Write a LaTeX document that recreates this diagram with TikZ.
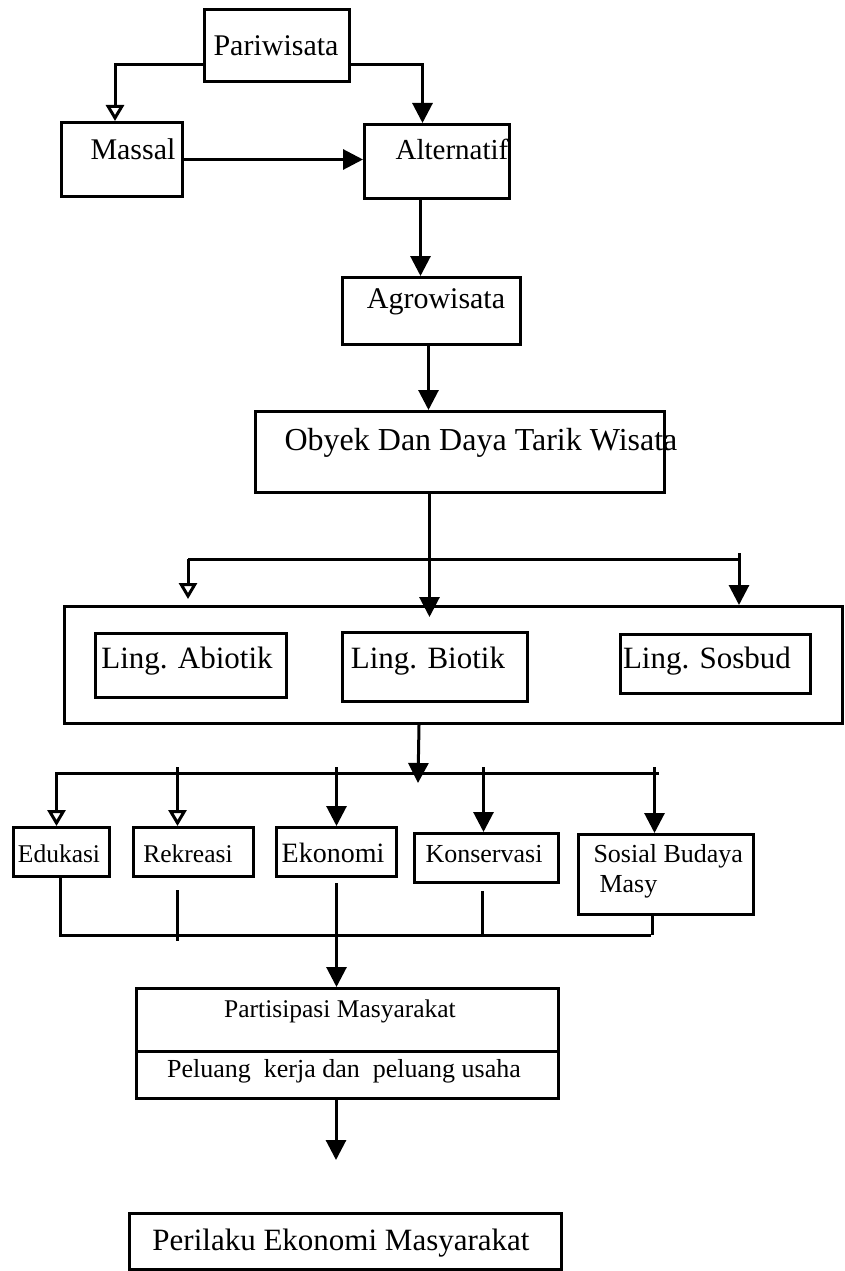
\documentclass[tikz,border=0pt]{standalone}
\usepackage{fontspec}
\newfontfamily\tnr{Liberation Serif}
\usetikzlibrary{arrows.meta,calc}
\newcommand{\fsz}[1]{\fontsize{#1}{#1}\selectfont}
\begin{document}
\begin{tikzpicture}[x=1pt,y=-1pt,line width=3pt,
  box/.style={draw,rectangle,inner sep=0pt,anchor=north west},
  txt/.style={inner sep=0pt,anchor=base},
  arr/.style={-{Triangle[length=20pt,width=20pt]}},
  oarr/.style={-{Triangle[open,fill=white,length=16pt,width=18pt]}}]
\useasboundingbox (0,0) rectangle (844,1271);
% boxes
\node[box,minimum width=145,minimum height=72] (pari) at (203,8) {};
\node[box,minimum width=121,minimum height=74] (mas) at (60,121) {};
\node[box,minimum width=145,minimum height=74] (alt) at (363,123) {};
\node[box,minimum width=178,minimum height=67] (agro) at (341,276) {};
\node[box,minimum width=409,minimum height=81] (oby) at (254,410) {};
\node[box,minimum width=778,minimum height=117] (ctr) at (63,605) {};
\node[box,minimum width=191,minimum height=64] (abio) at (94,632) {};
\node[box,minimum width=185,minimum height=69] (bio) at (341,631) {};
\node[box,minimum width=190,minimum height=59] (sos) at (619,633) {};
\node[box,minimum width=96,minimum height=49] (edu) at (12,826) {};
\node[box,minimum width=120,minimum height=49] (rek) at (132,826) {};
\node[box,minimum width=120,minimum height=49] (eko) at (275,826) {};
\node[box,minimum width=144,minimum height=49] (kon) at (413,832) {};
\node[box,minimum width=175,minimum height=80] (sbm) at (577,833) {};
\node[box,minimum width=422,minimum height=63] (part) at (135,987) {};
\node[box,minimum width=422,minimum height=47] (pel) at (135,1050) {};
\node[box,minimum width=432,minimum height=56] (per) at (128,1212) {};
% texts
\node[txt,font=\tnr\fsz{30}] (tpari) at (276,56) {Pariwisata};
\node[txt,font=\tnr\fsz{30}] (tmas) at (133,160) {Massal};
\node[txt,font=\tnr\fsz{29}] (talt) at (452,159) {Alternatif};
\node[txt,font=\tnr\fsz{30}] (tagro) at (436,308) {Agrowisata};
\node[txt,font=\tnr\fsz{32}] (toby) at (481,450) {Obyek Dan Daya Tarik Wisata};
\node[txt,font=\tnr\fsz{31}] (tabio) at (187,668) {Ling. Abiotik};
\node[txt,font=\tnr\fsz{31}] (tbio) at (428,668) {Ling. Biotik};
\node[txt,font=\tnr\fsz{31}] (tsos) at (707,668) {Ling. Sosbud};
\node[txt,font=\tnr\fsz{25.5}] (tedu) at (59,862) {Edukasi};
\node[txt,font=\tnr\fsz{25.5}] (trek) at (188,862) {Rekreasi};
\node[txt,font=\tnr\fsz{28}] (teko) at (333,862) {Ekonomi};
\node[txt,font=\tnr\fsz{26}] (tkon) at (484,862) {Konservasi};
\node[txt,font=\tnr\fsz{26},anchor=base west] (tsbm1) at (592,862) {Sosial Budaya};
\node[txt,font=\tnr\fsz{26},anchor=base west] (tsbm2) at (598,892) {Masy};
\node[txt,font=\tnr\fsz{25.5}] (tpart) at (340,1017) {Partisipasi Masyarakat};
\node[txt,font=\tnr\fsz{26}] (tpel) at (344,1077) {Peluang\ \ kerja dan\ \ peluang usaha};
\node[txt,font=\tnr\fsz{31}] (tper) at (341,1250) {Perilaku Ekonomi Masyarakat};
% top connectors
\draw[oarr] ([yshift=18pt]pari.south west) -| ([xshift=-7pt]mas.north);
\draw[arr] ([yshift=18pt]pari.south east) -| ([xshift=-14.5pt]alt.north);
\draw[arr] (mas.east) -- (mas.east -| alt.west);
\draw[arr] ([xshift=-16.5pt]alt.south) -- ([xshift=-16.5pt]alt.south |- agro.north);
\draw[arr] ([xshift=-3pt]agro.south) -- ([xshift=-3pt]agro.south |- oby.north);
\draw[arr,shorten >=-12pt] ([xshift=-30.5pt]oby.south) -- ([xshift=-30.5pt]oby.south |- ctr.north);
% branch to container
\coordinate (brL) at (188,559);
\coordinate (brR) at (739,559);
\draw (brL) -- (brR);
\draw[oarr,shorten >=6pt] (brL) -- (brL |- ctr.north);
\draw[arr] ([yshift=6pt]brR) -- (brR |- ctr.north);
% container to bus
\coordinate (bus) at (418,783);
\coordinate (busL) at (55,773);
\coordinate (busR) at (659,773);
\draw[arr] ([xshift=-34.5pt]ctr.south) -- (bus);
\draw (busL) -- (busR);
\draw[oarr] ([xshift=-5pt]edu.north |- busL) -- ([xshift=-5pt]edu.north);
\draw[oarr] ([xshift=-16pt,yshift=6pt]rek.north |- busL) -- ([xshift=-16pt]rek.north);
\draw[arr] ([yshift=6pt]eko.north |- busL) -- (eko.north);
\draw[arr] ([xshift=-3pt,yshift=6pt]kon.north |- busL) -- ([xshift=-3pt]kon.north);
\draw[arr] ([xshift=-11.5pt,yshift=6pt]sbm.north |- busL) -- ([xshift=-11.5pt]sbm.north);
% lower collection
\coordinate (lowL) at (59,935);
\coordinate (lowR) at (651,935);
\draw (lowL) -- (lowR);
\draw ([xshift=-1pt]edu.south) -- ([xshift=-1pt]edu.south |- lowL);
\draw ([xshift=-16pt,yshift=-12pt]rek.south) -- ([xshift=-16pt,yshift=-6pt]rek.south |- lowL);
\draw[arr] ([yshift=-5pt]eko.south) -- (eko.south |- part.north);
\draw ([xshift=-4pt,yshift=-7pt]kon.south) -- ([xshift=-4pt]kon.south |- lowL);
\draw ([xshift=-13.5pt]sbm.south) -- ([xshift=-13.5pt]sbm.south |- lowR);
% bottom
\coordinate (endp) at (336,1160);
\draw[arr] (pel.south -| endp) -- (endp);
\end{tikzpicture}
\end{document}
